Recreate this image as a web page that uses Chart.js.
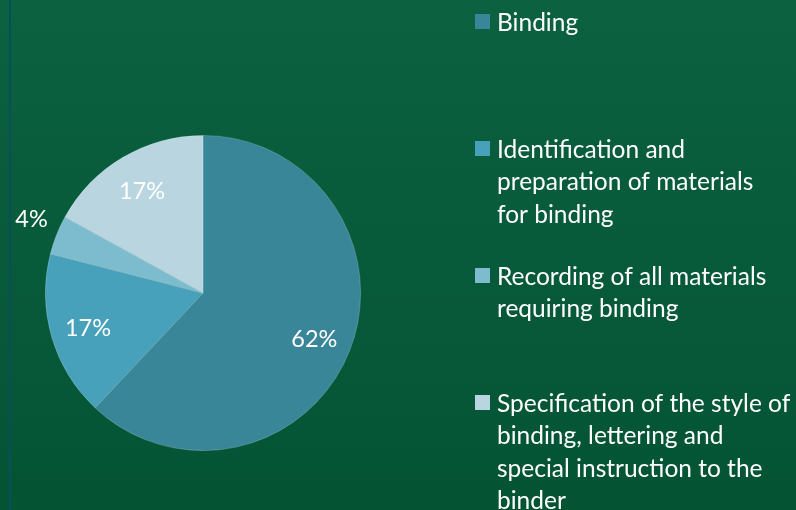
<!DOCTYPE html>
<html>
<head>
<meta charset="utf-8">
<script src="https://cdn.jsdelivr.net/npm/chart.js@4.4.0/dist/chart.umd.min.js"></script>
<style>
  html, body { margin: 0; padding: 0; background: #085a3c; }
  #wrap { width: 796px; height: 510px; position: relative; }
</style>
</head>
<body>
<div id="wrap"><canvas id="grafico" width="796" height="510"></canvas></div>
<script>
// data
var categorias = [
	["Binding"],
	["Identification and", "preparation of materials", "for binding"],
	["Recording of all materials", "requiring binding"],
	["Specification of the style of", "binding, lettering and", "special instruction to the", "binder"]
];
var valores = [62, 17, 4, 17];
var colores = ["#3a8699", "#47a1ba", "#7dbbcf", "#b8d5e0"];

var FUENTE = "Lato, 'DejaVu Sans', sans-serif";

// fondo verde + linea azul a la izquierda
var fondo = {
	id: 'fondo',
	beforeDraw: function(chart) {
		var ctx = chart.ctx;
		var g = ctx.createLinearGradient(0, 0, 0, chart.height);
		g.addColorStop(0, '#0b6140');
		g.addColorStop(1, '#045434');
		ctx.save();
		ctx.fillStyle = g;
		ctx.fillRect(0, 0, chart.width, chart.height);
		ctx.fillStyle = '#0b4d5e';
		ctx.fillRect(9, 0, 2, chart.height);
		ctx.restore();
	}
};

// porcentajes sobre las porciones
var etiquetas = {
	id: 'etiquetas',
	afterDatasetsDraw: function(chart) {
		var ctx = chart.ctx;
		var meta = chart.getDatasetMeta(0);
		var datos = chart.data.datasets[0].data;
		var total = datos.reduce(function(a, b) { return a + b; }, 0);
		ctx.save();
		ctx.font = '23.5px ' + FUENTE;
		ctx.fillStyle = '#ffffff';
		ctx.textAlign = 'center';
		ctx.textBaseline = 'middle';
		meta.data.forEach(function(arco, i) {
			var p = arco.getProps(['x', 'y', 'startAngle', 'endAngle', 'outerRadius'], true);
			var medio = (p.startAngle + p.endAngle) / 2;
			var parte = datos[i] / total;
			var r = parte < 0.06 ? p.outerRadius * 1.17 : p.outerRadius * 0.76;
			var dy = parte < 0.06 ? -6 : 2;
			var txt = Math.round(parte * 100) + '%';
			ctx.fillText(txt, p.x + Math.cos(medio) * r, p.y + Math.sin(medio) * r + dy);
		});
		ctx.restore();
	}
};

// leyenda a la derecha con varias lineas
var leyenda = {
	id: 'leyenda',
	afterDraw: function(chart) {
		var ctx = chart.ctx;
		var labels = chart.data.labels;
		var bg = chart.data.datasets[0].backgroundColor;
		ctx.save();
		ctx.font = '24.5px ' + FUENTE;
		ctx.textBaseline = 'middle';
		ctx.textAlign = 'left';
		for (var i = 0; i < labels.length; i++) {
			var y0 = 21.5 + i * 127;
			ctx.fillStyle = bg[i];
			ctx.fillRect(475, y0 - 7.5, 15, 15);
			ctx.fillStyle = '#ffffff';
			var lineas = labels[i];
			for (var j = 0; j < lineas.length; j++) {
				ctx.fillText(lineas[j], 497, y0 + 1.5 + j * 32.5);
			}
		}
		ctx.restore();
	}
};

var ctx = document.getElementById('grafico');

var chartdata = {
	labels: categorias,
	datasets: [
		{
			data: valores,
			backgroundColor: colores,
			borderColor: 'rgba(255,255,255,0.25)',
			borderWidth: 0.75
		}
	]
};

var pieGraph = new Chart(ctx, {
	type: 'pie',
	data: chartdata,
	options: {
		responsive: false,
		animation: false,
		layout: { padding: { left: 45, right: 435, top: 135, bottom: 59 } },
		plugins: {
			legend: { display: false },
			tooltip: { enabled: false }
		}
	},
	plugins: [fondo, etiquetas, leyenda]
});
</script>
</body>
</html>
